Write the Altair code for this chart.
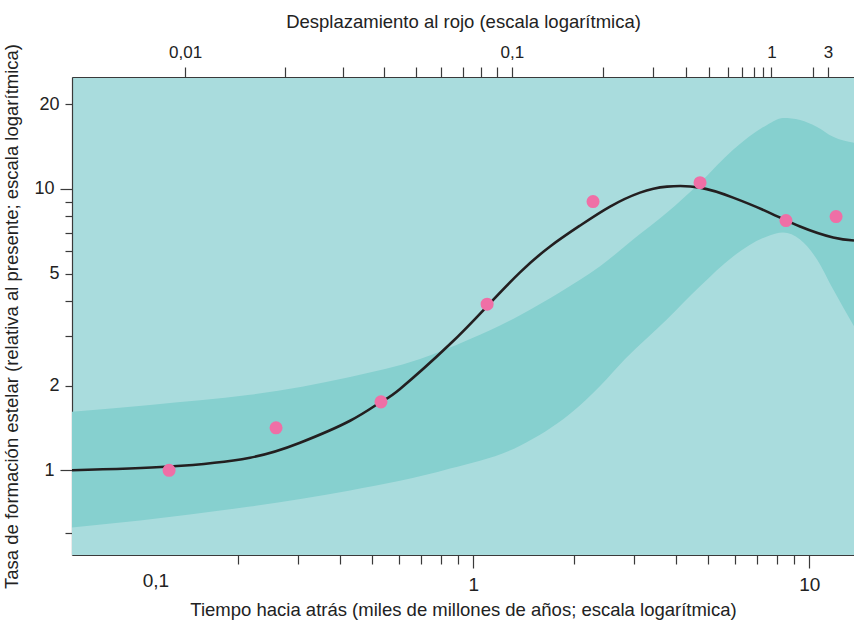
import numpy as np
import pandas as pd
import altair as alt

# Star-formation history (rate relative to the present) against look-back time in Gyr
curve_time = [0.0639, 0.1243, 0.2165, 0.3049, 0.4296, 0.531, 0.605, 0.8525, 1.099, 1.377,
              1.692, 2.078, 2.552, 3.134, 3.771, 4.728, 5.930, 7.482, 9.383, 11.77, 13.58]
curve_rate = [1.0, 1.031, 1.109, 1.253, 1.500, 1.751, 1.947, 2.810, 3.831, 5.054,
              6.247, 7.413, 8.658, 9.703, 10.19, 10.11, 9.316, 8.311, 7.354, 6.722, 6.56]

# Measured points
obs_time = [0.1243, 0.2587, 0.531, 1.099, 2.271, 4.728, 8.52, 12.01]
obs_rate = [1.0, 1.416, 1.751, 3.893, 9.017, 10.53, 7.72, 7.98]

# Upper edge of the uncertainty band
upper_time = [0.0639, 0.1091, 0.2165, 0.4296, 0.694, 0.9777, 1.377, 1.811, 2.383, 2.988,
              3.771, 4.728, 5.930, 7.482, 8.350, 9.383, 10.54, 11.77, 13.58]
upper_rate = [1.614, 1.708, 1.854, 2.147, 2.486, 2.927, 3.558, 4.293, 5.307, 6.614,
              8.245, 10.53, 13.78, 16.89, 17.88, 17.60, 16.62, 15.32, 14.59]

# Lower edge of the uncertainty band
lower_time = [0.0639, 0.1019, 0.2165, 0.4296, 0.8525, 1.377, 1.940, 2.383, 2.828, 3.771,
              4.728, 5.930, 7.482, 8.350, 9.383, 10.54, 11.77, 13.58]
lower_rate = [0.6267, 0.6637, 0.7437, 0.8474, 1.014, 1.223, 1.588, 1.994, 2.486, 3.444,
              4.509, 5.758, 6.779, 7.004, 6.614, 5.618, 4.400, 3.254]

# Axis ticks
time_ticks = [0.1, 0.2, 0.3, 0.4, 0.5, 0.6, 0.7, 0.8, 0.9, 1, 2, 3, 4, 5, 6, 7, 8, 9, 10]
rate_ticks = [0.6, 1, 2, 3, 4, 5, 6, 7, 8, 9, 10, 20]
redshift_ticks = [0.01, 0.02, 0.03, 0.04, 0.05, 0.06, 0.07, 0.08, 0.09,
                  0.1, 0.2, 0.3, 0.4, 0.5, 0.6, 0.7, 0.8, 0.9, 1, 2, 3]
redshift_labels = {0.01: "0,01", 0.1: "0,1", 1: "1", 3: "3"}

TIME_DOMAIN = [0.0639, 13.58]
RATE_DOMAIN = [0.5, 25]


def lookback_gyr(z, h0=70.0, om=0.3):
    """Look-back time for a flat LCDM cosmology."""
    zz = np.linspace(0.0, z, 4001)
    ez = np.sqrt(om * (1 + zz) ** 3 + (1 - om))
    hubble_time = 977.8 / h0
    return float(hubble_time * np.trapezoid(1.0 / ((1 + zz) * ez), zz))


z_times = [round(lookback_gyr(z), 4) for z in redshift_ticks]
top_expr = ""
for z, lbl in redshift_labels.items():
    t = round(lookback_gyr(z), 4)
    top_expr += f"abs(datum.value - {t}) < 0.0005 ? '{lbl}' : "
top_expr += "''"

FONT = "Liberation Sans, Arial"
INK = "#3a3a3a"
LIGHT = "#a9dcdd"
DARK = "#86d0cf"
PINK = "#ef6fa6"

curve_df = pd.DataFrame({"t": curve_time, "rate": curve_rate})
obs_df = pd.DataFrame({"t": obs_time, "rate": obs_rate})
upper_df = pd.DataFrame({"t": upper_time, "rate": upper_rate})
lower_df = pd.DataFrame({"t": lower_time, "rate": lower_rate})

xs = alt.Scale(type="log", domain=TIME_DOMAIN, nice=False)
ys = alt.Scale(type="log", domain=RATE_DOMAIN, nice=False)

y_axis = alt.Axis(
    values=rate_ticks,
    labelExpr="indexof([1, 2, 5, 10, 20], datum.value) >= 0 ? datum.value : ''",
    tickSize={"condition": {"test": "datum.value == 1 || datum.value == 10", "value": 12},
              "value": 7},
    title="Tasa de formación estelar (relativa al presente; escala logarítmica)",
    grid=False,
)
y_enc = alt.Y("rate:Q", scale=ys, axis=y_axis)

bottom_axis = alt.Axis(
    values=time_ticks,
    labelExpr="datum.value == 0.1 ? '0,1' : datum.value == 1 ? '1' : datum.value == 10 ? '10' : ''",
    tickSize={"condition": {"test": "datum.value == 1 || datum.value == 10", "value": 13},
              "value": 9},
    tickOpacity={"condition": {"test": "datum.value == 0.1", "value": 0}, "value": 1},
    labelOffset={"condition": {"test": "datum.value == 0.1", "value": 18}, "value": 0},
    title="Tiempo hacia atrás (miles de millones de años; escala logarítmica)",
    grid=False,
)

top_axis = alt.Axis(
    orient="top",
    values=z_times,
    labelExpr=top_expr,
    tickSize=10,
    title="Desplazamiento al rojo (escala logarítmica)",
    grid=False,
)

band = alt.Chart(upper_df).mark_area(color=DARK, interpolate="monotone", clip=True).encode(
    x=alt.X("t:Q", scale=xs, axis=bottom_axis),
    y=y_enc,
    y2=alt.datum(RATE_DOMAIN[0]),
)

below = alt.Chart(lower_df).mark_area(color=LIGHT, interpolate="monotone", clip=True).encode(
    x=alt.X("t:Q", scale=xs, axis=None),
    y=y_enc,
    y2=alt.datum(RATE_DOMAIN[0]),
)

line = alt.Chart(curve_df).mark_line(color="#231f20", strokeWidth=2.6,
                                     interpolate="natural", clip=True).encode(
    x=alt.X("t:Q", scale=xs, axis=None),
    y=y_enc,
)

points = alt.Chart(obs_df).mark_point(filled=True, color=PINK, opacity=1, size=170,
                                      shape="circle", clip=True).encode(
    x=alt.X("t:Q", scale=xs, axis=top_axis),
    y=y_enc,
)

chart = (
    alt.layer(band, below, line, points)
    .resolve_scale(x="independent")
    .properties(
        width=782,
        height=478,
        autosize=alt.AutoSizeParams(type="none"),
        padding={"left": 72, "top": 77, "right": 0, "bottom": 66},
    )
    .configure(background="white")
    .configure_view(fill=LIGHT, stroke=None)
    .configure_axis(
        domainColor=INK,
        domainWidth=1.2,
        tickColor=INK,
        tickWidth=1.2,
        labelFont=FONT,
        labelFontSize=18,
        labelColor="#222222",
        labelPadding=6,
        labelOverlap=False,
        labelFlush=False,
        titleFont=FONT,
        titleFontSize=18.5,
        titleFontWeight="normal",
        titleColor="#222222",
    )
    .configure_axisBottom(labelFontSize=19, labelPadding=7, titlePadding=6)
    .configure_axisTop(labelFontSize=17, labelPadding=6, titlePadding=12)
    .configure_axisLeft(labelPadding=6, titlePadding=12)
)

chart.save("out.html", embed_options={"renderer": "svg", "actions": False})
